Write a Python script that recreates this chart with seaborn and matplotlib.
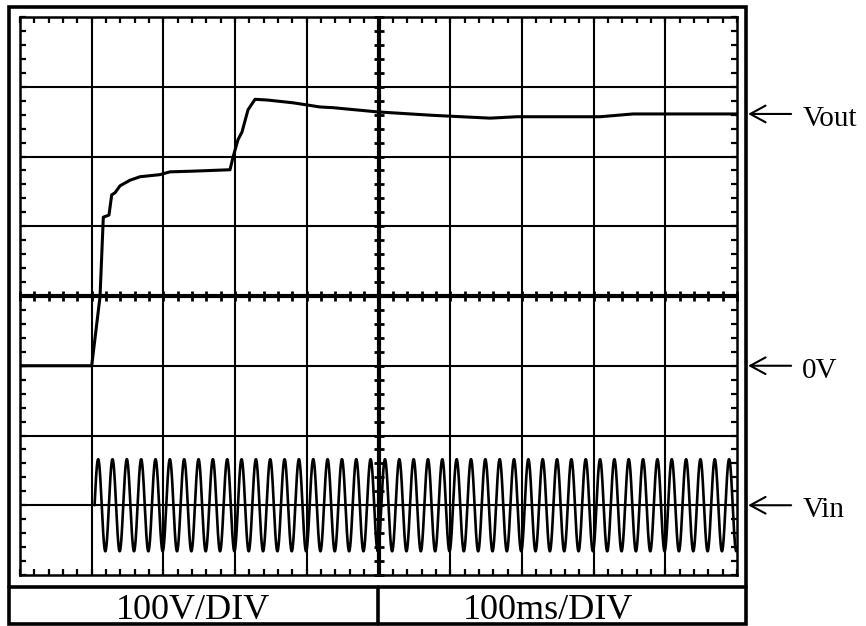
import numpy as np
import matplotlib
matplotlib.use("Agg")
import matplotlib.pyplot as plt
import matplotlib.transforms as mtransforms
from matplotlib.lines import Line2D
from matplotlib.patches import Rectangle
from matplotlib.ticker import MultipleLocator
import seaborn as sns

# ---- trace data (time in ms, voltage in V; 100 V/div, 100 ms/div) ----
vout_t_ms = [0, 100, 111.6, 116.2, 124.1, 127.9, 132.5, 139.5, 153.4, 167.4,
             195.3, 209.2, 241.3, 292.9, 297.1, 304.0, 309.6, 318.0, 327.8,
             344.5, 380.8, 418.4, 436.5, 497.9, 576.0, 655.5, 693.2, 808.9,
             854.9, 1000]
vout_v = [0, 0, 99, 213, 216, 245, 248, 258, 266, 271,
          274, 278, 279, 281, 299, 324, 335, 367, 382,
          381, 377, 371, 370, 364, 359, 355, 357, 357,
          361, 361]

# input: 50 Hz mains sine, shown on its own screen offset
vin_freq_hz = 50
vin_amplitude_v = 66
vin_offset_v = -200
vin_start_ms = 104

# screen layout
x_range_ms = (0, 1000)
y_range_v = (-300, 500)
div_ms = 100
div_v = 100
sub_ms = 20
sub_v = 20
marker_labels = ["Vout", "0V", "Vin"]
marker_levels_v = [361, 0, -200]
scale_labels = ["100V/DIV", "100ms/DIV"]

sns.set_style("white")
plt.rcParams["font.family"] = ["Liberation Serif", "DejaVu Serif"]

W, H = 866, 626
fig = plt.figure(figsize=(W / 100, H / 100), dpi=100)
fig.patch.set_facecolor("white")

# graticule area
gx0, gx1, gy0, gy1 = 20, 737, 17, 575
ax = fig.add_axes([gx0 / W, 1 - gy1 / H, (gx1 - gx0) / W, (gy1 - gy0) / H])
ax.set_xlim(*x_range_ms)
ax.set_ylim(*y_range_v)

xc = (x_range_ms[0] + x_range_ms[1]) / 2
yc = (y_range_v[0] + y_range_v[1]) / 2

# grid lines at every division, centre cross heavier
for t in np.arange(x_range_ms[0] + div_ms, x_range_ms[1], div_ms):
    ax.axvline(t, color="black", lw=3.0 if t == xc else 1.5, zorder=1)
for v in np.arange(y_range_v[0] + div_v, y_range_v[1], div_v):
    ax.axhline(v, color="black", lw=3.0 if v == yc else 1.5, zorder=1)

# sub-division marks along the centre cross
sub_t = np.arange(x_range_ms[0], x_range_ms[1] + 1, sub_ms)
sub_y = np.arange(y_range_v[0], y_range_v[1] + 1, sub_v)
ax.plot(sub_t, np.full_like(sub_t, yc, dtype=float), ls="none", marker="|",
        ms=7, mew=2.0, color="black", zorder=1, clip_on=False)
ax.plot(np.full_like(sub_y, xc, dtype=float), sub_y, ls="none", marker="_",
        ms=7, mew=2.0, color="black", zorder=1, clip_on=False)

# edge ticks pointing inward on all four sides
ax.set_xticks(np.arange(x_range_ms[0], x_range_ms[1] + 1, div_ms))
ax.set_yticks(np.arange(y_range_v[0], y_range_v[1] + 1, div_v))
ax.xaxis.set_minor_locator(MultipleLocator(sub_ms))
ax.yaxis.set_minor_locator(MultipleLocator(sub_v))
ax.tick_params(which="both", direction="in", top=True, right=True,
               bottom=True, left=True, labelbottom=False, labelleft=False,
               length=4, width=1.6, color="black")
for s in ax.spines.values():
    s.set_visible(True)
    s.set_color("black")
    s.set_linewidth(1.8)

# traces
sns.lineplot(x=vout_t_ms, y=vout_v, ax=ax, color="black", lw=2.2,
             sort=False, estimator=None, zorder=3)
vin_t = np.linspace(vin_start_ms, x_range_ms[1], 6000)
vin_v = vin_offset_v + vin_amplitude_v * np.sin(
    2 * np.pi * vin_freq_hz * (vin_t - vin_start_ms) / 1000.0)
sns.lineplot(x=vin_t, y=vin_v, ax=ax, color="black", lw=1.9,
             sort=False, estimator=None, zorder=3)
ax.set_xlabel("")
ax.set_ylabel("")

# channel markers on the right
blend = mtransforms.blended_transform_factory(ax.transAxes, ax.transData)
text_tr = mtransforms.offset_copy(blend, fig=fig, x=0, y=-12, units="dots")
for lab, lev in zip(marker_labels, marker_levels_v):
    ax.annotate("", xy=(1.0155, lev), xytext=(1.0755, lev),
                xycoords=("axes fraction", "data"),
                textcoords=("axes fraction", "data"),
                annotation_clip=False,
                arrowprops=dict(arrowstyle="->,head_length=11,head_width=6",
                                mutation_scale=1, lw=1.5, color="black",
                                shrinkA=0, shrinkB=0))
    ax.text(1.091, lev, lab, transform=text_tr, ha="left", va="baseline",
            fontsize=21, color="black", clip_on=False)

# outer frame and scale table
fx0, fx1, fy0, fy1 = 8.5, 745.5, 6.5, 624
fig.add_artist(Rectangle((fx0 / W, 1 - fy1 / H), (fx1 - fx0) / W,
                         (fy1 - fy0) / H, transform=fig.transFigure,
                         fill=False, ec="black", lw=2.6))
ty = 587
fig.add_artist(Line2D([fx0 / W, fx1 / W], [1 - ty / H, 1 - ty / H],
                      transform=fig.transFigure, color="black", lw=2.6))
fig.add_artist(Line2D([377.5 / W, 377.5 / W], [1 - fy1 / H, 1 - ty / H],
                      transform=fig.transFigure, color="black", lw=2.6))
fig.text(193 / W, 1 - 619 / H, scale_labels[0], ha="center", va="baseline",
         fontsize=26, color="black")
fig.text(548 / W, 1 - 619 / H, scale_labels[1], ha="center", va="baseline",
         fontsize=26, color="black")

fig.savefig("out.png", dpi=100, facecolor="white")
